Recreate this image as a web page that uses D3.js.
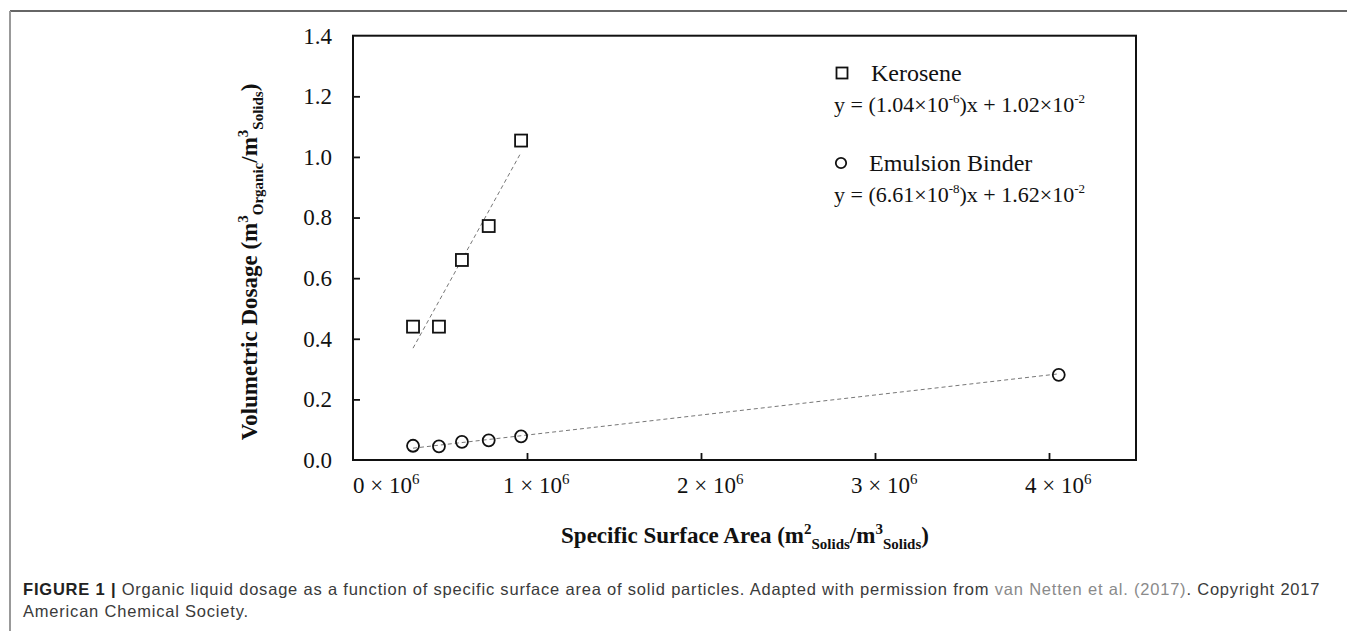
<!DOCTYPE html>
<html>
<head>
<meta charset="utf-8">
<script src="https://cdn.jsdelivr.net/npm/d3@7"></script>
<style>
  body { margin: 0; background: #fff; }
  svg { display: block; }
</style>
</head>
<body>
<svg id="chart" width="1347" height="631"></svg>
<script>
// data
const xValues = [0.345e6, 0.494e6, 0.626e6, 0.78e6, 0.966e6];
const keroseneY = [0.44, 0.44, 0.66, 0.772, 1.054];
const binderX = [0.345e6, 0.494e6, 0.626e6, 0.78e6, 0.966e6, 4.056e6];
const binderY = [0.047, 0.045, 0.060, 0.065, 0.078, 0.281];
// trend line fits: [slope, intercept]
const keroseneFit = [1.04e-6, 1.02e-2];
const binderFit = [6.61e-8, 1.62e-2];
const yTicks = [0, 0.2, 0.4, 0.6, 0.8, 1.0, 1.2, 1.4];
const xTicks = [0, 1e6, 2e6, 3e6, 4e6];

const svg = d3.select("#chart");
const serif = "'Liberation Serif', 'Times New Roman', serif";
const margin = { top: 35.7, right: 211, bottom: 171, left: 353 };
const width = 1347 - margin.left - margin.right;
const height = 631 - margin.top - margin.bottom;

// frame around the figure panel
svg.append("line").attr("x1", 10).attr("x2", 1347).attr("y1", 11).attr("y2", 11)
    .attr("stroke", "#333").attr("stroke-width", 1.5);
svg.append("line").attr("x1", 10).attr("x2", 10).attr("y1", 11).attr("y2", 631)
    .attr("stroke", "#999").attr("stroke-width", 2);

const g = svg.append("g").attr("transform", `translate(${margin.left},${margin.top})`);

const x = d3.scaleLinear().domain([0, 4.5e6]).range([0, width]);
const y = d3.scaleLinear().domain([0, 1.4]).range([height, 0]);

// axes (ticks inside)
const yAxis = g.append("g")
    .call(d3.axisLeft(y).tickValues(yTicks).tickSize(-7).tickPadding(21).tickFormat(d3.format(".1f")));
yAxis.selectAll("text").style("font-family", serif).style("font-size", "23px").attr("fill", "#111");

const xAxis = g.append("g")
    .attr("transform", `translate(0,${height})`)
    .call(d3.axisBottom(x).tickValues(xTicks).tickSize(-7).tickFormat(""));

// box
g.append("rect").attr("width", width).attr("height", height)
    .attr("fill", "none").attr("stroke", "#111").attr("stroke-width", 2);
g.selectAll(".domain").remove();
g.selectAll(".tick line").attr("stroke", "#111").attr("stroke-width", 1.8);
g.selectAll(".tick").filter(d => d === 0 || d === 1.4).select("line").remove();

// x tick labels with superscript
const xLab = g.append("g").selectAll("text")
    .data(xTicks)
    .enter()
    .append("text")
    .attr("x", d => Math.max(x(d) - 24, 0))
    .attr("y", height + 33)
    .style("font-family", serif)
    .style("font-size", "23px")
    .attr("fill", "#111");
xLab.append("tspan").text(d => `${d / 1e6} \u00d7 10`);
xLab.append("tspan").attr("dy", -9).style("font-size", "15px").text("6");

// trend lines
const trend = (fit, xs) => {
    const x0 = d3.min(xs), x1 = d3.max(xs);
    return [[x0, fit[0] * x0 + fit[1]], [x1, fit[0] * x1 + fit[1]]];
};
const line = d3.line().x(d => x(d[0])).y(d => y(d[1]));
[[keroseneFit, xValues], [binderFit, binderX]].forEach(([fit, xs]) => {
    g.append("path")
        .attr("d", line(trend(fit, xs)))
        .attr("fill", "none")
        .attr("stroke", "#777")
        .attr("stroke-width", 1)
        .attr("stroke-dasharray", "4,3");
});

// kerosene squares
g.selectAll(".sq")
    .data(xValues.map((v, i) => [v, keroseneY[i]]))
    .enter()
    .append("rect")
    .attr("x", d => x(d[0]) - 6)
    .attr("y", d => y(d[1]) - 6)
    .attr("width", 12)
    .attr("height", 12)
    .attr("fill", "#fff")
    .attr("stroke", "#111")
    .attr("stroke-width", 1.8);

// emulsion binder circles
g.selectAll(".ci")
    .data(binderX.map((v, i) => [v, binderY[i]]))
    .enter()
    .append("circle")
    .attr("cx", d => x(d[0]))
    .attr("cy", d => y(d[1]))
    .attr("r", 6)
    .attr("fill", "none")
    .attr("stroke", "#111")
    .attr("stroke-width", 1.8);

// legend
const leg = svg.append("g").style("font-family", serif).style("font-size", "24px").attr("fill", "#111");
leg.append("rect").attr("x", 836.5).attr("y", 67.5).attr("width", 11).attr("height", 11)
    .attr("fill", "none").attr("stroke", "#111").attr("stroke-width", 1.8);
leg.append("text").attr("x", 871).attr("y", 81).text("Kerosene");
leg.append("circle").attr("cx", 841).attr("cy", 163).attr("r", 5.2)
    .attr("fill", "none").attr("stroke", "#111").attr("stroke-width", 1.8);
leg.append("text").attr("x", 869).attr("y", 171).text("Emulsion Binder");

const eq = (yPos, a, ea, b, eb) => {
    const t = leg.append("text").attr("x", 834).attr("y", yPos).style("font-size", "22px");
    t.append("tspan").text(`y = (${a}\u00d710`);
    t.append("tspan").attr("dy", -9).style("font-size", "13px").text(ea);
    t.append("tspan").attr("dy", 9).text(`)x + ${b}\u00d710`);
    t.append("tspan").attr("dy", -9).style("font-size", "13px").text(eb);
};
eq(112, "1.04", "-6", "1.02", "-2");
eq(202, "6.61", "-8", "1.62", "-2");

// axis titles
const xt = svg.append("text")
    .attr("x", 745).attr("y", 543)
    .attr("text-anchor", "middle")
    .style("font-family", serif).style("font-size", "23px").style("font-weight", "bold").attr("fill", "#111");
xt.append("tspan").text("Specific Surface Area (m");
xt.append("tspan").attr("dy", -9).style("font-size", "15px").text("2");
xt.append("tspan").attr("dy", 15).style("font-size", "15px").text("Solids");
xt.append("tspan").attr("dy", -6).text("/m");
xt.append("tspan").attr("dy", -9).style("font-size", "15px").text("3");
xt.append("tspan").attr("dy", 15).style("font-size", "15px").text("Solids");
xt.append("tspan").attr("dy", -6).text(")");

const yt = svg.append("text")
    .attr("transform", "translate(257,262) rotate(-90)")
    .attr("text-anchor", "middle")
    .style("font-family", serif).style("font-size", "23px").style("font-weight", "bold").attr("fill", "#111");
yt.append("tspan").text("Volumetric Dosage (m");
yt.append("tspan").attr("dy", -9).style("font-size", "15px").text("3");
yt.append("tspan").attr("dy", 15).style("font-size", "15px").text("Organic");
yt.append("tspan").attr("dy", -6).text("/m");
yt.append("tspan").attr("dy", -9).style("font-size", "15px").text("3");
yt.append("tspan").attr("dy", 15).style("font-size", "15px").text("Solids");
yt.append("tspan").attr("dy", -6).text(")");

// caption
const sans = "'Liberation Sans', Arial, sans-serif";
const cap = svg.append("g").style("font-family", sans).style("font-size", "16.5px")
    .style("letter-spacing", "0.8px").attr("fill", "#3a3a3a");
const c1 = cap.append("text").attr("x", 23).attr("y", 595);
c1.append("tspan").style("font-weight", "bold").attr("fill", "#222").text("FIGURE 1 | ");
c1.append("tspan").text("Organic liquid dosage as a function of specific surface area of solid particles. Adapted with permission from ");
c1.append("tspan").attr("fill", "#8a8a8a").text("van Netten et al. (2017)");
c1.append("tspan").text(". Copyright 2017");
cap.append("text").attr("x", 23).attr("y", 617).text("American Chemical Society.");
</script>
</body>
</html>
